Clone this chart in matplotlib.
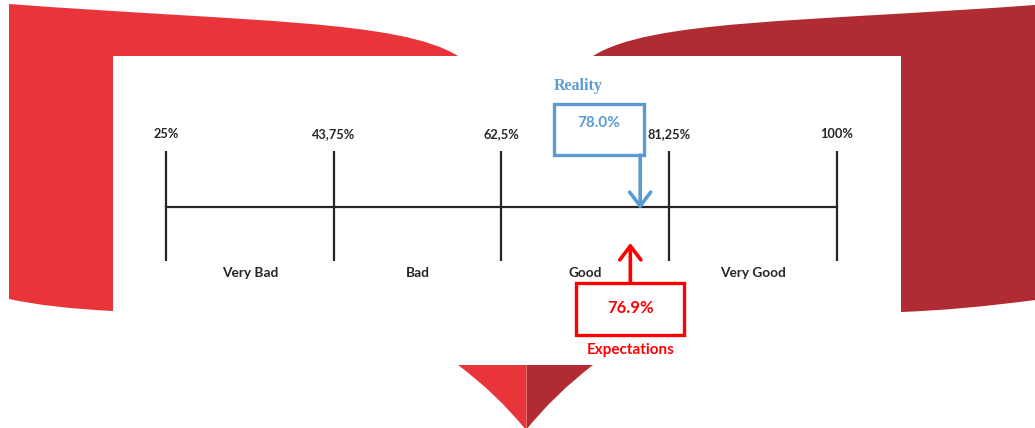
import matplotlib.pyplot as plt
from matplotlib.path import Path
from matplotlib.patches import PathPatch, Rectangle

# scale thresholds and the two measured values
thresholds = [25, 43.75, 62.5, 81.25, 100]
threshold_labels = ['25%', '43,75%', '62,5%', '81,25%', '100%']
bands = ['Very Bad', 'Bad', 'Good', 'Very Good']
reality = 78.0
expectations = 76.9

W, H = 1035, 428
RED = '#e9343b'
DARK_RED = '#b02c32'
BLUE = '#5b9bd5'
BRIGHT = '#ff0000'
INK = '#262626'

fig = plt.figure(figsize=(W / 100, H / 100), dpi=100)

# banner shapes, drawn in pixel units
bg = fig.add_axes([0, 0, 1, 1])
bg.set_xlim(0, W)
bg.set_ylim(H, 0)
bg.axis('off')

M, L, C3, C4, CL = Path.MOVETO, Path.LINETO, Path.CURVE3, Path.CURVE4, Path.CLOSEPOLY


def shape(verts, codes, color):
    bg.add_patch(PathPatch(Path(verts, codes), facecolor=color, edgecolor='none'))


shape([(9, 4), (250, 22), (400, 20), (458, 56), (113, 56), (113, 311), (50, 308), (9, 299), (9, 4)],
      [M, C4, C4, C4, L, L, C3, C3, CL], RED)
shape([(593, 56), (650, 20), (800, 22), (1035, 5), (1035, 300), (960, 310), (901, 312), (901, 56), (593, 56)],
      [M, C4, C4, C4, L, C3, C3, L, CL], DARK_RED)
bg.add_patch(Rectangle((113, 56), 788, H - 56, facecolor='white', edgecolor='none'))
shape([(458, 365), (526, 365), (526, 430), (497, 394), (458, 365)], [M, L, L, C3, C3], RED)
shape([(593, 365), (526, 365), (526, 430), (555, 394), (593, 365)], [M, L, L, C3, C3], DARK_RED)
bg.plot([526, 526], [365, 428], color='#f07a7f', lw=0.6)

# the scale itself: x in percent, y in pixels
ax = fig.add_axes([0, 0, 1, 1])
ax.patch.set_alpha(0)
px = (thresholds[-1] - thresholds[0]) / (837 - 166)
ax.set_xlim(thresholds[0] - 166 * px, thresholds[-1] + (W - 837) * px)
ax.set_ylim(H, 0)
ax.axis('off')

ax.plot([thresholds[0], thresholds[-1]], [207, 207], color=INK, lw=1.6)
ax.vlines(thresholds, 151, 261, color=INK, lw=1.6)
for t, lab in zip(thresholds, threshold_labels):
    ax.text(t, 134, lab, ha='center', va='center', fontsize=9.2,
            fontweight='bold', family='Lato', color=INK)
for a, b, name in zip(thresholds[:-1], thresholds[1:], bands):
    ax.text((a + b) / 2, 273, name, ha='center', va='center', fontsize=9.8,
            fontweight='bold', family='Lato', color=INK)

arrow = dict(arrowstyle='->,head_length=0.5,head_width=0.38', mutation_scale=20,
             lw=2.6, shrinkA=0, shrinkB=0)

# reality: box sits between the 62,5% and 81,25% labels
cx = reality - 41 * px
ax.add_patch(Rectangle((cx - 45 * px, 104), 90 * px, 51, fill=False,
                       edgecolor=BLUE, lw=2.4))
ax.text(cx - 45 * px, 86, 'Reality', ha='left', va='center', fontsize=11.5,
        fontweight='bold', family='Liberation Serif', color=BLUE)
ax.text(cx, 123, f'{reality:.1f}%', ha='center', va='center', fontsize=11,
        fontweight='bold', family='Lato', color=BLUE)
ax.annotate('', xy=(reality, 209), xytext=(reality, 155),
            arrowprops=dict(arrow, color=BLUE))

# expectations: box below the scale
ax.add_patch(Rectangle((expectations - 54 * px, 283), 108 * px, 52, fill=False,
                       edgecolor=BRIGHT, lw=2.4))
ax.text(expectations, 308, f'{expectations:.1f}%', ha='center', va='center',
        fontsize=12, fontweight='bold', family='Lato', color=BRIGHT)
ax.annotate('', xy=(expectations, 243), xytext=(expectations, 283),
            arrowprops=dict(arrow, color=BRIGHT))
ax.text(expectations, 350, 'Expectations', ha='center', va='center',
        fontsize=11, fontweight='bold', family='Lato', color=BRIGHT)

fig.savefig('out.png', dpi=100)
